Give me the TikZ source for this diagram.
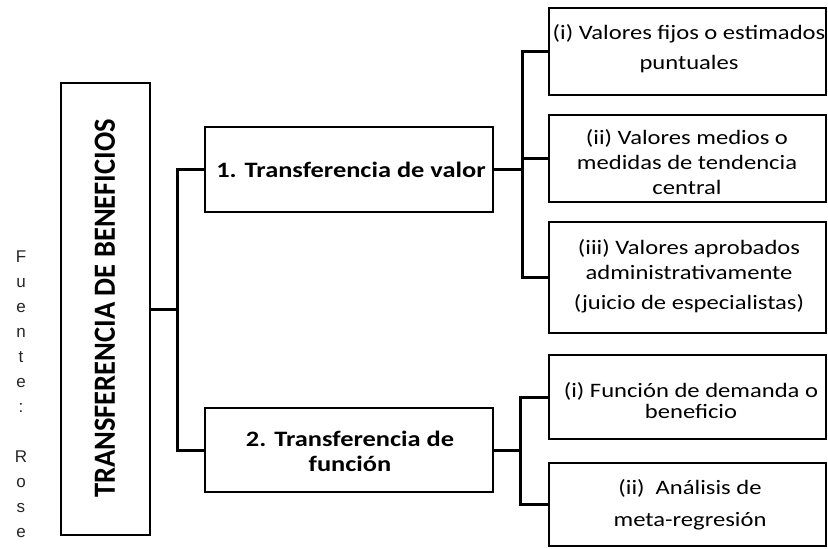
\documentclass[tikz,border=0pt]{standalone}
\usepackage{fontspec}
\setmainfont{Carlito}[FakeStretch=1.2]
\newfontfamily\titlefont{Carlito}
\newfontfamily\srcfont{Liberation Sans}
\begin{document}
\begin{tikzpicture}[x=1pt,y=-1pt,
  box/.style={draw, line width=2.8pt, inner sep=0pt, line join=miter},
  link/.style={line width=3pt, line join=miter},
  txt/.style={align=center, inner sep=0pt, font=\fontsize{20.5}{25}\selectfont},
  btxt/.style={align=center, inner sep=0pt, font=\fontsize{22}{25}\selectfont\bfseries},
  src/.style={inner sep=0pt, text=black!85, align=center, font=\srcfont\fontsize{17}{25}\selectfont}]
\useasboundingbox (0,0) rectangle (828,549);

% boxes
\node[box, minimum width=89pt, minimum height=452pt] (main) at (105.5,309) {};
\node[box, minimum width=288pt, minimum height=85pt] (box1) at (349,169.5) {};
\node[box, minimum width=288pt, minimum height=84pt] (box2) at (349,450) {};
\node[box, minimum width=277pt, minimum height=87pt] (a1) at (687.5,51.5) {};
\node[box, minimum width=277pt, minimum height=87pt] (a2) at (687.5,158.5) {};
\node[box, minimum width=277pt, minimum height=111pt] (a3) at (687.5,277.5) {};
\node[box, minimum width=277pt, minimum height=84pt] (b1) at (687.5,397) {};
\node[box, minimum width=277pt, minimum height=83pt] (b2) at (687.5,504.5) {};

% texts
\node[rotate=90, inner sep=0pt, font=\titlefont\fontsize{28.5}{30}\selectfont\bfseries] (t0) at (105,308.5) {\scalebox{1}[1.08]{TRANSFERENCIA DE BENEFICIOS}};
\node[btxt] (t1) at (351,170) {1. Transferencia de valor};
\node[btxt] (t2) at (350,451) {2. Transferencia de\\función};
\node[txt] (ta1) at (689,49) {(i) Valores fijos o estimados\\[5pt]puntuales};
\node[txt] (ta2) at (687,162) {(ii) Valores medios o\\medidas de tendencia\\central};
\node[txt] (ta3) at (689,276) {(iii) Valores aprobados\\administrativamente\\[5pt](juicio de especialistas)};
\node[txt, font=\fontsize{20.5}{21}\selectfont] (tb1) at (691,401) {(i) Función de demanda o\\beneficio};
\node[txt] (tb2) at (690,505) {(ii)\ \ Análisis de\\[7pt]meta-regresión};

% source (vertical letters)
\node[src, anchor=north] (fuente) at (21,251)
  {F\\u\\e\\n\\t\\e\\:\\[25pt]R\\o\\s\\e};

% connectors
\coordinate (s1) at (177,309);
\coordinate (s2) at (522,169.5);
\coordinate (s3) at (520,450);
\draw[link] (main.east) -- (s1);
\draw[link] (box1.west) -| (s1) |- (box2.west);
\draw[link] (box1.east) -- (s2);
\draw[link] (a1.west) -| (s2) |- (a3.west);
\draw[link] (s2 |- a2.west) -- (a2.west);
\draw[link] (box2.east) -- (s3);
\draw[link] (b1.west) -| (s3) |- (b2.west);
\end{tikzpicture}
\end{document}
